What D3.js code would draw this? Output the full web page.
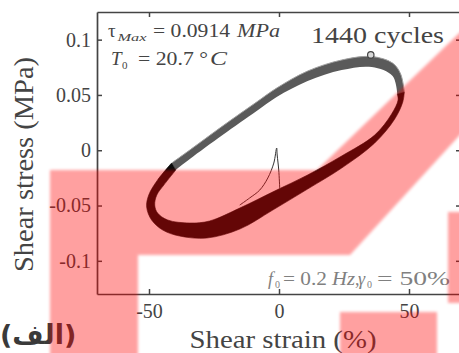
<!DOCTYPE html>
<html>
<head>
<meta charset="utf-8">
<script src="https://cdn.jsdelivr.net/npm/d3@7"></script>
<style>
  html, body { margin: 0; padding: 0; background: #fff; }
  svg { display: block; }
  text { font-family: "Liberation Serif", "Times New Roman", serif; }
</style>
</head>
<body>
<script>
// Hysteresis loop (shear strain in %, shear stress in MPa), 1440 cycles superposed.
// Upper branch of the loop band: outer and inner edges (right tip -> left).
const upperOuter = [
  [48.2, 0.0526], [46.8, 0.0689], [43.7, 0.0788], [35.7, 0.0847], [24.1, 0.0816],
  [11.0, 0.0716], [-0.9, 0.0562], [-8.6, 0.0436], [-21.7, 0.0219], [-34.3, 0.0002],
  [-41.3, -0.0116]
];
const upperInner = [
  [45.5, 0.0508], [43.7, 0.0671], [35.7, 0.0752], [24.1, 0.0725], [11.0, 0.0626],
  [-0.9, 0.0481], [-8.6, 0.0354], [-21.7, 0.0137], [-34.3, -0.0080], [-39.7, -0.0179]
];
// Lower branch of the loop band: outer and inner edges (left -> right tip).
const lowerOuter = [
  [-41.3, -0.0116], [-46.7, -0.0269], [-50.1, -0.0405], [-50.9, -0.0514], [-49.0, -0.0631],
  [-44.7, -0.0722], [-38.2, -0.0776], [-27.8, -0.0794], [-15.1, -0.0713], [-2.4, -0.0541],
  [11.0, -0.0351], [24.1, -0.0161], [36.8, 0.0065], [44.5, 0.0282], [47.6, 0.0436],
  [48.2, 0.0526]
];
const lowerInner = [
  [-39.7, -0.0179], [-44.3, -0.0315], [-47.0, -0.0405], [-47.8, -0.0496], [-46.7, -0.0568],
  [-42.8, -0.0631], [-34.3, -0.0658], [-26.7, -0.0640], [-15.1, -0.0523], [-1.7, -0.0369],
  [11.0, -0.0224], [24.1, -0.0052], [36.8, 0.0137], [43.3, 0.0327], [45.8, 0.0454],
  [45.5, 0.0508]
];
// First loading path from rest.
const initialCurve = [
  [0.3, -0.0353], [-0.1, -0.0179], [-0.7, -0.0043], [-0.9, 0.0020], [-2.0, -0.0116],
  [-4.3, -0.0251], [-7.4, -0.0360], [-11.3, -0.0432], [-15.1, -0.0496]
];
// Peak-stress marker.
const peakPoint = [35.3, 0.0862];

const xTicks = [-50, 0, 50];
const yTicks = [0.1, 0.05, 0, -0.05, -0.1];
const yTickLabels = ["0.1", "0.05", "0", "-0.05", "-0.1"];

const W = 459, H = 353;
const plot = { left: 97, right: 461, top: 12, bottom: 294 };

const svg = d3.select("body").append("svg").attr("width", W).attr("height", H);

const x = d3.scaleLinear().domain([-70, 70]).range([plot.left, plot.right]);
const y = d3.scaleLinear().domain([-0.13, 0.125]).range([plot.bottom, plot.top]);

const line = d3.line()
  .x(d => x(d[0])).y(d => y(d[1]))
  .curve(d3.curveCatmullRom.alpha(0.5));

function band(outer, inner) {
  return line(outer) + line(inner.slice().reverse()).replace(/^M/, "L") + "Z";
}

// Loop band
svg.append("path").attr("d", band(upperOuter, upperInner))
  .attr("fill", "#5a5a5a");
svg.append("path").attr("d", line(upperOuter))
  .attr("fill", "none").attr("stroke", "#a0a0a0").attr("stroke-width", 1);
svg.append("path").attr("d", band(lowerOuter, lowerInner))
  .attr("fill", "#0a0a0a").attr("stroke", "#0a0a0a").attr("stroke-width", 0.6);

// Initial loading curve
svg.append("path").attr("d", line(initialCurve))
  .attr("fill", "none").attr("stroke", "#333").attr("stroke-width", 1);

// Peak marker
svg.append("circle").attr("cx", x(peakPoint[0])).attr("cy", y(peakPoint[1])).attr("r", 3.2)
  .attr("fill", "#d8d8d8").attr("stroke", "#444").attr("stroke-width", 1.2);

// Axes (box with inward ticks)
const axisColor = "#444";
function styleAxis(g) {
  g.select(".domain").attr("stroke", axisColor).attr("stroke-width", 1.7);
  g.selectAll(".tick line").attr("stroke", axisColor).attr("stroke-width", 1.5);
  g.selectAll(".tick text").attr("fill", "#444").style("font-family", "Liberation Serif").style("font-size", "20px");
}
svg.append("g").attr("transform", `translate(0,${plot.bottom})`)
  .call(d3.axisBottom(x).tickValues(xTicks).tickSizeInner(-5).tickSizeOuter(0).tickPadding(10)
    .tickFormat(d => String(d)))
  .call(styleAxis);
svg.append("g").attr("transform", `translate(0,${plot.top})`)
  .call(d3.axisTop(x).tickValues(xTicks).tickSizeInner(-5).tickSizeOuter(0).tickFormat(""))
  .call(styleAxis);
svg.append("g").attr("transform", `translate(${plot.left},0)`)
  .call(d3.axisLeft(y).tickValues(yTicks).tickSizeInner(-5).tickSizeOuter(0).tickPadding(6)
    .tickFormat((d, i) => yTickLabels[i]))
  .call(styleAxis);
svg.append("g").attr("transform", `translate(${plot.right},0)`)
  .call(d3.axisRight(y).tickValues(yTicks).tickSizeInner(-5).tickSizeOuter(0).tickFormat(""))
  .call(styleAxis);

// Axis titles
svg.append("text").attr("x", 283).attr("y", 348).attr("text-anchor", "middle")
  .attr("textLength", 187).attr("lengthAdjust", "spacingAndGlyphs")
  .style("font-size", "25px").attr("fill", "#444").text("Shear strain (%)");
svg.append("text").attr("transform", "translate(33,164.5) rotate(-90)").attr("text-anchor", "middle")
  .attr("textLength", 215).attr("lengthAdjust", "spacingAndGlyphs")
  .style("font-size", "27px").attr("fill", "#444").text("Shear stress (MPa)");

// Annotations: runs of [text, x, baseline, size, italic, textLength, colour]
const annoRuns = [
  ["τ", 108, 37, 19, false, null, "#444"],
  ["Max", 117.5, 41, 11, true, 29, "#444"],
  ["= 0.0914", 153, 37, 19, false, 77, "#444"],
  ["MPa", 237, 37, 19, true, 43, "#444"],
  ["T", 111, 65, 19, true, null, "#444"],
  ["0", 122, 69, 11, false, null, "#444"],
  ["= 20.7 °", 138, 65, 19, false, 70, "#444"],
  ["C", 210, 65, 19, true, 17, "#444"],
  ["1440 cycles", 311, 43, 24, false, 133, "#444"],
  ["f", 268, 285, 18, true, null, "#808080"],
  ["0", 275, 288, 10, false, null, "#808080"],
  ["= 0.2", 283, 285, 18, false, 44, "#808080"],
  ["Hz", 332, 285, 18, true, 23, "#808080"],
  [",", 355, 285, 18, false, null, "#808080"],
  ["γ", 358, 285, 18, true, null, "#808080"],
  ["0", 367, 288, 10, false, null, "#808080"],
  ["= 50%", 377, 285, 18, false, 73, "#808080"]
];
annoRuns.forEach(([t, tx, ty, fs, it, tl, col]) => {
  const el = svg.append("text").attr("x", tx).attr("y", ty)
    .style("font-size", fs + "px").style("font-style", it ? "italic" : "normal")
    .attr("fill", col).text(t);
  if (tl) el.attr("textLength", tl).attr("lengthAdjust", "spacingAndGlyphs");
});

// Panel label
svg.append("text").attr("x", 0).attr("y", 344)
  .style("font-family", "DejaVu Sans").style("font-weight", "bold").style("font-size", "27px")
  .attr("fill", "#3a3a3a").text("(الف)");

// Red stamp overlay
const defs = svg.append("defs");
defs.append("filter").attr("id", "soft").attr("x", "-10%").attr("y", "-10%").attr("width", "120%").attr("height", "120%")
  .append("feGaussianBlur").attr("stdDeviation", 1.5);
const stamp = svg.append("g").attr("opacity", 0.37).attr("filter", "url(#soft)");
stamp.append("path")
  .attr("d", "M50,170 L317,170 L480,13 L480,113 L350,255 L138,255 L138,365 L50,365 Z")
  .attr("fill", "#ff0000");
stamp.append("rect").attr("x", 340).attr("y", 312).attr("width", 97).attr("height", 50).attr("fill", "#ff0000");
stamp.append("rect").attr("x", 448).attr("y", 212).attr("width", 30).attr("height", 91).attr("fill", "#ff0000");
</script>
</body>
</html>
